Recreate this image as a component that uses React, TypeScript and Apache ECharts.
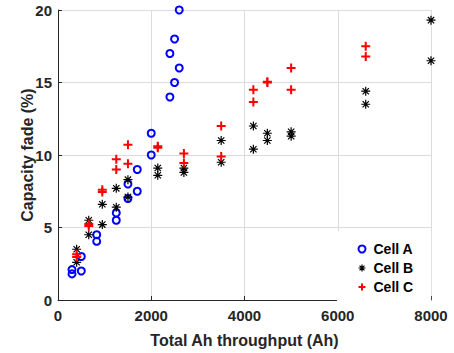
import React, { useEffect, useRef } from "react";
import * as echarts from "echarts";

const cellA: [number, number][] = [
  [300, 2.1], [300, 1.8], [500, 3.0], [500, 2.0], [830, 4.5], [830, 4.05],
  [1250, 6.0], [1250, 5.5], [1500, 8.0], [1500, 7.0], [1700, 9.0], [1700, 7.5],
  [2000, 11.5], [2000, 10.0], [2400, 14.0], [2400, 17.0], [2500, 15.0], [2500, 18.0],
  [2600, 16.0], [2600, 20.0],
];
const cellB: [number, number][] = [
  [400, 3.5], [400, 2.6], [660, 5.5], [660, 4.5], [950, 6.6], [950, 5.2],
  [1250, 7.7], [1250, 6.4], [1500, 8.3], [1500, 7.1], [2140, 9.1], [2140, 8.6],
  [2700, 9.1], [2700, 8.8], [3500, 11.0], [3500, 9.5], [4190, 12.0], [4190, 10.4],
  [4490, 11.5], [4490, 11.0], [5000, 11.6], [5000, 11.3], [6600, 14.4], [6600, 13.5],
  [8000, 19.3], [8000, 16.5],
];
const cellC: [number, number][] = [
  [400, 3.15], [400, 2.97], [660, 5.25], [660, 5.1], [950, 7.6], [950, 7.45],
  [1250, 9.7], [1250, 9.0], [1500, 10.7], [1500, 9.4], [2140, 10.6], [2140, 10.5],
  [2700, 10.1], [2700, 9.45], [3500, 12.0], [3500, 9.9], [4190, 14.5], [4190, 13.65],
  [4490, 15.0], [4490, 15.05], [5000, 16.0], [5000, 14.5], [6600, 17.5], [6600, 16.8],
];
const seriesNames = ["Cell A", "Cell B", "Cell C"];
const xTitle = "Total Ah throughput (Ah)";
const yTitle = "Capacity fade (%)";

const FONT = "'Liberation Sans', Arial, sans-serif";
const TXT = "#262626";
const STAR = "path://M0,-10L0,10M-10,0L10,0M-7,-7L7,7M-7,7L7,-7";
const PLUS = "path://M0,-10L0,10M-10,0L10,0";

export default function App() {
  const ref = useRef<HTMLDivElement>(null);
  useEffect(() => {
    if (!ref.current) return;
    const chart = echarts.init(ref.current, undefined, { renderer: "svg" });
    chart.setOption({
      animation: false,
      backgroundColor: "#ffffff",
      grid: { left: 58, top: 10, right: 23, bottom: 49, containLabel: false },
      xAxis: {
        type: "value",
        min: 0,
        max: 8000,
        interval: 2000,
        name: xTitle,
        nameLocation: "middle",
        nameGap: 32,
        nameMoveOverlap: false,
        nameTextStyle: { fontFamily: FONT, fontWeight: "bold", fontSize: 16, color: TXT },
        axisLine: { show: true, lineStyle: { color: TXT, width: 1 } },
        axisTick: { show: true, inside: true, length: 4, lineStyle: { color: TXT } },
        axisLabel: {
          fontFamily: FONT, fontWeight: "bold", fontSize: 15, color: TXT, margin: 8,
          formatter: (v: number) => String(v),
        },
        splitLine: { show: true, lineStyle: { color: "#dcdcdc", width: 1 } },
      },
      yAxis: {
        type: "value",
        min: 0,
        max: 20,
        interval: 5,
        name: yTitle,
        nameLocation: "middle",
        nameGap: 23,
        nameMoveOverlap: false,
        nameTextStyle: { fontFamily: FONT, fontWeight: "bold", fontSize: 16, color: TXT },
        axisLine: { show: true, lineStyle: { color: TXT, width: 1 } },
        axisTick: { show: true, inside: true, length: 4, lineStyle: { color: TXT } },
        axisLabel: {
          fontFamily: FONT, fontWeight: "bold", fontSize: 15, color: TXT, margin: 6,
          formatter: (v: number) => String(v),
        },
        splitLine: { show: true, lineStyle: { color: "#dcdcdc", width: 1 } },
      },
      legend: {
        orient: "vertical",
        left: 337,
        top: 231,
        padding: [11, 18, 10, 19],
        backgroundColor: "#ffffff",
        itemWidth: 7,
        itemHeight: 7,
        itemGap: 5,
        textStyle: { fontFamily: FONT, fontWeight: "bold", fontSize: 14, color: "#000", padding: [0, 0, 0, 3] },
        data: [
          { name: seriesNames[0], icon: "circle", itemStyle: { color: "#fff", borderColor: "#0000ff", borderWidth: 2 } },
          { name: seriesNames[1], icon: STAR, itemStyle: { color: "none", borderColor: "#000", borderWidth: 1.2 } },
          { name: seriesNames[2], icon: PLUS, itemStyle: { color: "none", borderColor: "#ff0000", borderWidth: 2 } },
        ],
      },
      series: [
        {
          name: seriesNames[0],
          type: "scatter",
          data: cellA,
          symbol: "circle",
          symbolSize: 7,
          clip: false,
          itemStyle: { color: "rgba(255,255,255,0)", borderColor: "#0000ff", borderWidth: 2, opacity: 1 },
          z: 3,
        },
        {
          name: seriesNames[1],
          type: "scatter",
          data: cellB,
          symbol: STAR,
          symbolSize: 9,
          clip: false,
          itemStyle: { color: "none", borderColor: "#000", borderWidth: 1.2, opacity: 1 },
          z: 3,
        },
        {
          name: seriesNames[2],
          type: "scatter",
          data: cellC,
          symbol: PLUS,
          symbolSize: 9,
          clip: false,
          itemStyle: { color: "none", borderColor: "#ff0000", borderWidth: 2, opacity: 1 },
          z: 3,
        },
      ],
    });
    return () => chart.dispose();
  }, []);
  return (
    <div
      ref={ref}
      style={{ position: "fixed", left: 0, top: 0, width: 454, height: 353, background: "#fff" }}
    />
  );
}
